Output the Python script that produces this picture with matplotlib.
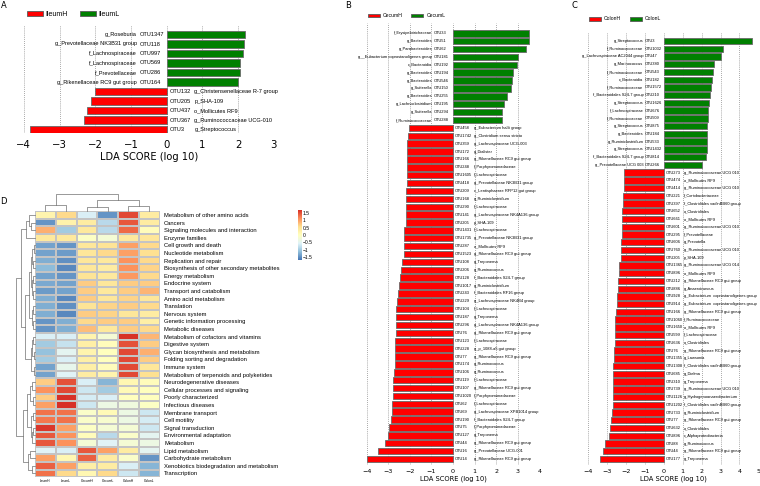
import matplotlib
matplotlib.use("Agg")
import numpy as np
import matplotlib.pyplot as plt
from matplotlib.colors import LinearSegmentedColormap
from matplotlib.patches import Patch

# ---------------- data ----------------
A_taxa = ["g_Roseburia", "g_Prevotellaceae NK3B31 group", "f_Lachnospiraceae", "f_Lachnospiraceae",
          "f_Prevotellaceae", "g_Rikenellaceae RC9 gut group", "g_Christensenellaceae R-7 group",
          "p_SHA-109", "o_Mollicutes RF9", "g_Ruminococcaceae UCG-010", "g_Streptococcus"]
A_otu = ["OTU1347", "OTU118", "OTU997", "OTU569", "OTU286", "OTU164", "OTU132", "OTU205", "OTU437",
         "OTU367", "OTU3"]
A_lda = [2.20, 2.17, 2.15, 2.04, 2.04, 2.01, -2.02, -2.13, -2.23, -2.32, -3.83]
A_groups = ["IleumH", "IleumL"]

B_taxa = ["f_Erysipelotrichaceae", "g_Bacteroides", "g_Parabacteroides", "g__Eubacterium coprostanoligenes group",
          "c_Bacteroidia", "g_Bacteroides", "g_Bacteroides", "g_Sutterella", "g_Bacteroides", "g_Lachnoclostridium",
          "g_Sutterella", "f_Ruminococcaceae",
          "g_Eubacterium hallii group", "g_Clostridium sensu stricto", "g_Lachnospiraceae UCG-003", "g_Dialister",
          "g_Rikenellaceae RC9 gut group", "f_Porphyromonadaceae", "f_Lachnospiraceae", "g_Prevotellaceae NK3B31 group",
          "c_Lentisphaerae RFP12 gut group", "g_Ruminiclostridium", "f_Lachnospiraceae",
          "g_Lachnospiraceae NK4A136 group", "p_SHA-109", "f_Lachnospiraceae", "g_Prevotellaceae NK3B31 group",
          "o_Mollicutes RF9", "g_Rikenellaceae RC9 gut group", "g_Treponema", "g_Ruminococcus",
          "f_Bacteroidales S24-7 group", "g_Ruminiclostridium", "f_Bacteroidales RF16 group",
          "g_Lachnospiraceae NK4B4 group", "f_Lachnospiraceae", "g_Treponema", "g_Lachnospiraceae NK4A136 group",
          "g_Rikenellaceae RC9 gut group", "f_Lachnospiraceae", "g_p_1088-a5 gut group",
          "g_Rikenellaceae RC9 gut group", "g_Ruminococcus", "g_Ruminococcus", "f_Lachnospiraceae",
          "g_Rikenellaceae RC9 gut group", "f_Porphyromonadaceae", "f_Lachnospiraceae",
          "g_Lachnospiraceae XPB1014 group", "f_Bacteroidales S24-7 group", "f_Porphyromonadaceae", "g_Treponema",
          "g_Rikenellaceae RC9 gut group", "g_Prevotellaceae UCG-001", "g_Rikenellaceae RC9 gut group"]
B_otu = ["OTU33", "OTU51", "OTU62", "OTU181", "OTU192", "OTU194", "OTU546", "OTU150", "OTU255", "OTU195",
         "OTU294", "OTU288",
         "OTU458", "OTU1742", "OTU359", "OTU172", "OTU166", "OTU248", "OTU1605", "OTU418", "OTU209", "OTU168",
         "OTU290", "OTU141", "OTU205", "OTU1431", "OTU1735", "OTU287", "OTU1523", "OTU108", "OTU206", "OTU128",
         "OTU1017", "OTU243", "OTU229", "OTU104", "OTU187", "OTU296", "OTU76", "OTU123", "OTU228", "OTU77",
         "OTU174", "OTU106", "OTU119", "OTU107", "OTU1020", "OTU62", "OTU69", "OTU190", "OTU75", "OTU127",
         "OTU44", "OTU16", "OTU14"]
B_lda = [3.50, 3.50, 3.38, 3.00, 2.97, 2.77, 2.75, 2.71, 2.50, 2.35, 2.29, 2.29,
         -2.02, -2.09, -2.14, -2.14, -2.14, -2.14, -2.14, -2.14, -2.17, -2.17, -2.18, -2.18, -2.20, -2.25,
         -2.25, -2.29, -2.29, -2.38, -2.40, -2.46, -2.48, -2.57, -2.58, -2.63, -2.63, -2.65, -2.65, -2.67,
         -2.68, -2.70, -2.71, -2.74, -2.78, -2.79, -2.80, -2.84, -2.85, -2.87, -2.95, -3.02, -3.13, -3.49,
         -3.97]
B_groups = ["CecumH", "CecumL"]

C_taxa = ["g_Streptococcus", "f_Ruminococcaceae", "g_Lachnospiraceae AC2044 group", "g_Marinococcus",
          "f_Ruminococcaceae", "c_Bacteroidia", "f_Ruminococcaceae", "f_Bacteroidales S24-7 group",
          "g_Streptococcus", "f_Lachnospiraceae", "f_Ruminococcaceae", "g_Streptococcus", "g_Bacteroides",
          "g_Ruminiclostridium", "g_Streptococcus", "f_Bacteroidales S24-7 group", "g_Prevotellaceae UCG 003",
          "g_Ruminococcaceae UCG 010", "o_Mollicutes RF9", "g_Ruminococcaceae UCG 010", "f_Coriobacteriaceae",
          "f_Clostridiales vadinBB60 group", "o_Clostridiales", "o_Mollicutes RF9", "g_Ruminococcaceae UCG 010",
          "f_Prevotellaceae", "g_Prevotella", "g_Ruminococcaceae UCG 010", "p_SHA-109",
          "g_Ruminococcaceae UCG 014", "o_Mollicutes RF9", "g_Rikenellaceae RC9 gut group", "g_Anaerotruncus",
          "g_Eubacterium  coprostanoligenes group", "g_Eubacterium  coprostanoligenes group",
          "g_Rikenellaceae RC9 gut group", "f_Ruminococcaceae", "o_Mollicutes RF9", "f_Lachnospiraceae",
          "o_Clostridiales", "g_Rikenellaceae RC9 gut group", "g_Lawsonia", "f_Clostridiales vadinBB60 group",
          "g_Dielma", "g_Treponema", "g_Ruminococcaceae UCG 010", "g_Hydrogenoanaerobacterium",
          "f_Clostridiales vadinBB60 group", "g_Ruminiclostridium", "g_Rikenellaceae RC9 gut group",
          "o_Clostridiales", "c_Alphaproteobacteria", "g_Ruminococcus", "g_Rikenellaceae RC9 gut group",
          "g_Treponema"]
C_otu = ["OTU3", "OTU1032", "OTU47", "OTU380", "OTU543", "OTU182", "OTU1572", "OTU210", "OTU1626", "OTU676",
         "OTU509", "OTU875", "OTU184", "OTU533", "OTU1432", "OTU814", "OTU266",
         "OTU273", "OTU474", "OTU414", "OTU221", "OTU397", "OTU652", "OTU661", "OTU601", "OTU295", "OTU606",
         "OTU760", "OTU205", "OTU1365", "OTU896", "OTU212", "OTU886", "OTU928", "OTU914", "OTU166", "OTU1060",
         "OTU1650", "OTU599", "OTU636", "OTU76", "OTU1355", "OTU1308", "OTU685", "OTU310", "OTU739", "OTU1126",
         "OTU1202", "OTU733", "OTU77", "OTU632", "OTU896", "OTU88", "OTU44", "OTU177"]
C_lda = [4.64, 3.13, 3.03, 2.67, 2.60, 2.55, 2.50, 2.42, 2.37, 2.32, 2.32, 2.30, 2.27, 2.27, 2.27, 2.23, 2.02,
         -2.10, -2.10, -2.10, -2.14, -2.16, -2.19, -2.19, -2.19, -2.21, -2.27, -2.28, -2.28, -2.37, -2.37,
         -2.44, -2.44, -2.46, -2.48, -2.51, -2.57, -2.59, -2.59, -2.59, -2.63, -2.66, -2.68, -2.68, -2.68,
         -2.70, -2.70, -2.71, -2.73, -2.79, -2.86, -2.89, -3.14, -3.20, -3.36]
C_groups = ["ColonH", "ColonL"]

pathways = ["Metabolism of other amino acids", "Cancers", "Signaling molecules and interaction", "Enzyme families",
            "Cell growth and death", "Nucleotide metabolism", "Replication and repair",
            "Biosynthesis of other secondary metabolites", "Energy metabolism", "Endocrine system",
            "Transport and catabolism", "Amino acid metabolism", "Translation", "Nervous system",
            "Genetic information processing", "Metabolic diseases", "Metabolism of cofactors and vitamins",
            "Digestive system", "Glycan biosynthesis and metabolism", "Folding sorting and degradation",
            "Immune system", "Metabolism of terpenoids and polyketides", "Neurodegenerative diseases",
            "Cellular processes and signaling", "Poorly characterized", "Infectious diseases",
            "Membrane transport", "Cell motility", "Signal transduction", "Environmental adaptation",
            "Metabolism", "Lipid metabolism", "Carbohydrate metabolism",
            "Xenobiotics biodegradation and metabolism", "Transcription"]
samples = ["IleumH", "IleumL", "CecumH", "CecumL", "ColonH", "ColonL"]
IleumH = [0.2, -1.45, 0.9, 0.4, -1.35, -1.35, -1.25, -1.15, -1.35, -1.3, -1.4, -1.25, -1.25, -1.25, -1.45, -1.45,
          -0.6, -1.0, -1.1, -1.0, -1.35, -1.35, 0.7, 1.1, 0.7, 1.0, 1.3, 1.25, 1.65, 1.45, 1.45,
          -0.55, 1.0, 1.4, 1.3]
IleumL = [0.6, 0.25, -1.0, 0.4, -1.45, -1.4, -1.5, -1.55, -1.45, -1.35, -1.35, -1.55, -1.5, -1.55, -1.25, -1.25,
          -0.6, -0.75, -0.5, -0.6, -0.45, -0.55, 1.5, 1.55, 1.7, 1.7, 1.3, 1.3, 1.0, 1.1, 1.1,
          -0.6, 0.15, 1.0, 0.6]
CecumH = [-0.6, 0.35, 0.4, -0.05, 0.45, 0.45, 0.45, 0.45, 0.5, 0.7, 0.7, 0.7, 0.5, 0.7, 0.6, 0.8,
          0.2, 0.3, 0.2, 0.3, 0.3, 0.35, -0.6, -0.7, -0.65, -0.7, -0.1, -0.1, -0.05, 0.05, -0.2,
          1.45, 1.4, 0.3, 0.15]
CecumL = [-1.45, -0.85, -0.85, -0.2, 0.5, 0.6, 0.4, 0.35, 0.4, 0.45, 0.4, 0.45, 0.65, 0.65, 0.7, 0.4,
          -0.2, 0.05, 0.0, 0.0, 0.05, 0.2, -1.2, -1.0, -0.6, -0.35, 0.1, -0.15, -0.2, -0.85, -0.55,
          1.0, 0.35, 0.35, 0.6]
ColonH = [1.55, 1.45, 1.35, 0.4, 1.0, 1.0, 1.1, 1.1, 1.05, 0.7, 0.7, 0.65, 0.7, 0.45, 0.7, 0.7,
          1.7, 1.5, 1.55, 1.55, 1.55, 1.55, 0.15, 0.1, 0.0, -0.3, -0.35, -0.35, -0.2, -0.1, -0.2,
          0.35, -0.1, -0.6, -0.7]
ColonL = [0.35, 0.35, 0.05, 0.45, 0.6, 0.55, 0.6, 0.65, 0.6, 0.7, 0.85, 0.45, 0.6, 0.35, 0.3, 0.6,
          0.85, 0.7, 0.9, 0.7, 0.45, 0.55, 0.05, 0.0, 0.0, -0.05, -0.7, -0.65, -0.7, -0.5, -0.35,
          -0.5, -1.45, -1.2, -1.2]
cbar_ticks = [1.5, 1, 0.5, 0, -0.5, -1, -1.5]

# dendrogram trees: (left, right, height); leaves are row/column indices
row_tree = (
    ((((1, 2, 4.0), 0, 6.0), 3, 9.0),
     (((((4, 5, 1.5), (6, 7, 2.0), 3.0), ((8, 9, 1.8), (10, 11, 2.2), 3.2), 4.5),
       ((12, 13, 1.6), (14, 15, 2.0), 3.5), 6.0),
      ((((16, 17, 2.0), (18, 19, 1.5), 3.0), (20, 21, 1.2), 4.5)), 10.0), 14.0),
    (((((22, 23, 3.0), (24, 25, 2.5), 5.0), ((26, 27, 2.0), ((28, 29, 2.5), 30, 3.0), 4.5), 8.0)),
     ((31, 32, 5.0), (33, 34, 3.0), 7.0), 12.0),
    19.0)
col_tree = ((0, 1, 6.0), ((2, 3, 4.5), (4, 5, 5.5), 11.0), 17.0)

# ---------------- layout helpers ----------------
W, H = 760, 486
fig = plt.figure(figsize=(W / 100, H / 100), dpi=100)


def px_box(x0, y0, x1, y1):
    return [x0 / W, 1 - y1 / H, (x1 - x0) / W, (y1 - y0) / H]


LAB = "Liberation Sans"
RED, GREEN = "#FF0000", "#008000"


def lefse(box, ax_top, ax_bot, row_top, row_bot, taxa, otus, lda, xlim, ticks, offs, fs_lab, fs_tick,
          fs_xl, tick_pad, xl_pad):
    ax = fig.add_axes(px_box(box[0], ax_top, box[1], ax_bot))
    n = len(lda)
    y = np.arange(n)
    cols = [GREEN if v > 0 else RED for v in lda]
    ax.barh(y, lda, height=0.82, color=cols, edgecolor="#6a6a6a", linewidth=0.6, zorder=3)
    s = (row_bot - row_top) / (n - 1)
    ax.set_ylim((n - 1) + (ax_bot - row_bot) / s, -(row_top - ax_top) / s)
    ax.set_xlim(*xlim)
    ax.set_xticks(ticks)
    ax.set_yticks([])
    ax.grid(axis="x", linestyle=(0, (1, 1.5)), color="#8c8c8c", linewidth=0.6, zorder=0)
    for sp in ax.spines.values():
        sp.set_visible(False)
    ax.tick_params(axis="x", length=0, pad=tick_pad, labelsize=fs_tick)
    ax.set_xlabel("LDA SCORE (log 10)", fontsize=fs_xl, labelpad=xl_pad)
    g_name, g_otu, r_otu, r_name = offs
    for i, (t, o, v) in enumerate(zip(taxa, otus, lda)):
        if v > 0:
            ax.annotate(t, (0, i), xytext=(g_name, 0), textcoords="offset points", ha="right", va="center",
                        fontsize=fs_lab, family=LAB)
            ax.annotate(o, (0, i), xytext=(g_otu, 0), textcoords="offset points", ha="left", va="center",
                        fontsize=fs_lab, family=LAB)
        else:
            ax.annotate(o, (0, i), xytext=(r_otu, 0), textcoords="offset points", ha="left", va="center",
                        fontsize=fs_lab, family=LAB)
            ax.annotate(t, (0, i), xytext=(r_name, 0), textcoords="offset points", ha="left", va="center",
                        fontsize=fs_lab, family=LAB)
    return ax


def add_legend(groups, x, y, fs, hl, hh, tp, cs):
    handles = [Patch(facecolor=RED, edgecolor="#5a5a5a", linewidth=0.6, label=groups[0]),
               Patch(facecolor=GREEN, edgecolor="#5a5a5a", linewidth=0.6, label=groups[1])]
    fig.legend(handles=handles, loc="center left", bbox_to_anchor=(x / W, 1 - y / H), ncol=2,
               frameon=False, borderpad=0, borderaxespad=0, handlelength=hl, handleheight=hh,
               handletextpad=tp, columnspacing=cs, prop={"family": LAB, "size": fs})


# ---------------- Panel A ----------------
lefse((23.9, 273.8), 25, 133, 34.5, 129.5, A_taxa, A_otu, A_lda, (-4, 3), range(-4, 4),
      (-21.6, -19.7, 1.9, 19.9), 4.1, 7.3, 7.1, 5.0, 1.5)
add_legend(A_groups, 27, 14.7, 5.0, 2.3, 0.75, 0.3, 1.8)

# ---------------- Panel B ----------------
lefse((366.7, 539.3), 23, 465, 33.3, 459, B_taxa, B_otu, B_lda, (-4, 4), range(-4, 5),
      (-14.9, -13.5, 1.15, 15.3), 2.9, 4.6, 4.9, 3.0, 1.2)
add_legend(B_groups, 368, 15.7, 3.7, 2.35, 0.75, 0.6, 1.6)

# ---------------- Panel C ----------------
lefse((588.3, 758.3), 33, 465, 41, 459, C_taxa, C_otu, C_lda, (-4, 5), range(-4, 6),
      (-14.6, -13.7, 1.2, 14.6), 2.9, 4.6, 4.9, 3.0, 1.2)
add_legend(C_groups, 589, 19, 3.7, 2.35, 0.75, 0.6, 1.6)

# ---------------- Panel D: heatmap ----------------
data = np.array([IleumH, IleumL, CecumH, CecumL, ColonH, ColonL]).T
cmap = LinearSegmentedColormap.from_list(
    "pheat", ["#4575B4", "#91BFDB", "#E0F3F8", "#FFFFBF", "#FEE090", "#FC8D59", "#D73027"])
hx0, hx1, hy0, hy1 = 35, 159.5, 211.2, 477.2
axh = fig.add_axes(px_box(hx0, hy0, hx1, hy1))
mesh = axh.pcolormesh(np.arange(data.shape[1] + 1), np.arange(data.shape[0] + 1), data, cmap=cmap,
                      vmin=-1.7, vmax=1.7, edgecolors="#c4c4c4", linewidth=0.25)
axh.set_ylim(data.shape[0], 0)
axh.set_xlim(0, data.shape[1])
for sp in axh.spines.values():
    sp.set_visible(False)
axh.yaxis.tick_right()
axh.set_yticks(np.arange(len(pathways)) + 0.5)
axh.set_yticklabels(pathways, fontsize=4.2, family=LAB)
axh.set_xticks(np.arange(len(samples)) + 0.5)
axh.set_xticklabels(samples, fontsize=2.4, family=LAB)
axh.tick_params(length=0)
axh.tick_params(axis="y", pad=3.4)
axh.tick_params(axis="x", pad=1.6)


def dendro(node):
    if isinstance(node, int):
        return node + 0.5, 0.0, []
    l, r, h = node
    xl, hl, sl = dendro(l)
    xr, hr, sr = dendro(r)
    return (xl + xr) / 2, h, sl + sr + [([xl, xl, xr, xr], [hl, h, h, hr])]


# row dendrogram
axr = fig.add_axes(px_box(16, hy0, hx0, hy1))
_, rh, segs = dendro(row_tree)
for xs, hs in segs:
    axr.plot(hs, xs, color="#707070", linewidth=0.5, clip_on=False)
axr.set_ylim(data.shape[0], 0)
axr.set_xlim(rh, 0)
axr.axis("off")

# column dendrogram
axc = fig.add_axes(px_box(hx0, 194, hx1, hy0))
_, ch, segs = dendro(col_tree)
for xs, hs in segs:
    axc.plot(xs, hs, color="#707070", linewidth=0.5, clip_on=False)
axc.set_xlim(0, data.shape[1])
axc.set_ylim(0, ch)
axc.axis("off")

# colorbar
cax = fig.add_axes(px_box(297.5, 210, 301.7, 260))
cb = fig.colorbar(mesh, cax=cax, ticks=cbar_ticks)
cb.outline.set_visible(False)
cb.ax.set_yticklabels([f"{t:g}".replace("-", "\u2212") for t in cbar_ticks], family=LAB)
cax.tick_params(length=0, pad=1, labelsize=3.6)

# panel letters
for letter, x, y in [("A", 1, 5), ("B", 345.5, 5), ("C", 572, 5.5), ("D", 0.5, 202)]:
    fig.text(x / W, 1 - y / H, letter, fontsize=6, ha="left", va="center")

fig.savefig("out.png", dpi=100)
